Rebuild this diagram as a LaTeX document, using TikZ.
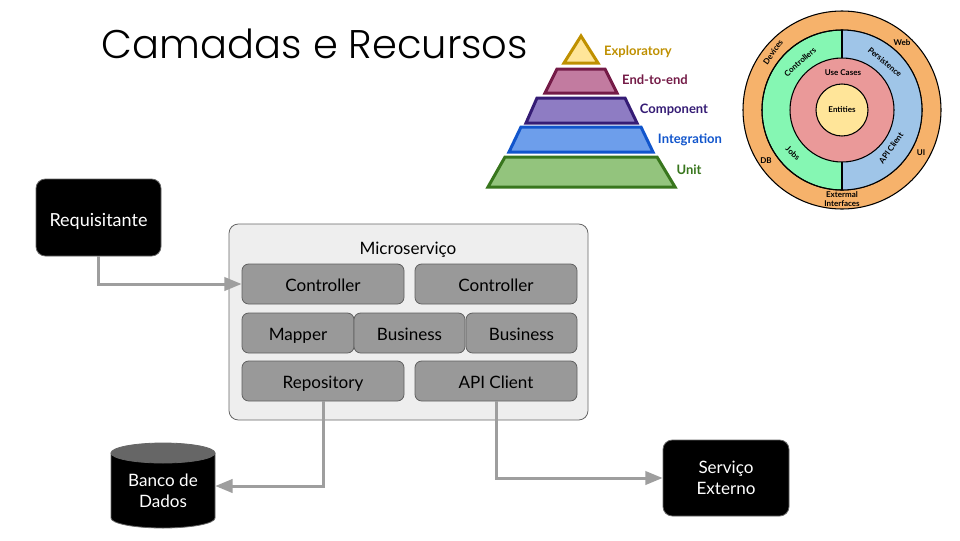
\documentclass[tikz,border=0pt]{standalone}
\usepackage{fontspec}
\setmainfont{Lato}
\newfontfamily\titlefont{Poppins Light}
\usetikzlibrary{arrows.meta}
\definecolor{conn}{HTML}{9E9E9E}
\definecolor{boxfill}{HTML}{999999}
\definecolor{boxline}{HTML}{5F5F5F}
\definecolor{contfill}{HTML}{EEEEEE}
\definecolor{contline}{HTML}{666666}
\definecolor{blkline}{HTML}{666666}
\definecolor{dbtop}{HTML}{666666}
\definecolor{exfill}{HTML}{FFE599}\definecolor{exline}{HTML}{BF9000}
\definecolor{eefill}{HTML}{C27BA0}\definecolor{eeline}{HTML}{741B47}
\definecolor{cofill}{HTML}{8E7CC3}\definecolor{coline}{HTML}{351C75}
\definecolor{infill}{HTML}{6D9EEB}\definecolor{inline}{HTML}{1155CC}
\definecolor{unfill}{HTML}{93C47D}\definecolor{unline}{HTML}{38761D}
\definecolor{onorange}{HTML}{F6B26B}
\definecolor{ongreen}{HTML}{85F7B3}
\definecolor{onblue}{HTML}{9FC5E8}
\definecolor{onred}{HTML}{EA9999}
\definecolor{onyellow}{HTML}{FFE599}
\begin{document}
\begin{tikzpicture}[x=0.75pt,y=-0.75pt,
  boxfont/.style={font=\fontsize{12.8}{15.5}\selectfont},
  layerbox/.style={boxfont, draw=boxline, fill=boxfill, rounded corners=5pt, minimum height=30pt, inner sep=0pt, line width=0.6pt, text height=11.6pt, text depth=0pt},
  blackbox/.style={boxfont, draw=blkline, fill=black, text=white, rounded corners=7pt, inner sep=0pt, align=center, line width=0.6pt},
  container/.style={draw=contline, fill=contfill, rounded corners=7pt, line width=0.6pt},
  connarrow/.style={draw=conn, line width=2.25pt, -{Triangle[length=13pt,width=10pt]}},
  pyr/.style={line width=2.25pt, line join=miter},
  pyrlabel/.style={font=\bfseries\fontsize{9.75}{11}\selectfont, anchor=base, inner sep=0pt},
  onlabel/.style={font=\bfseries\fontsize{6}{7}\selectfont, inner sep=0pt, align=center},
  ring/.style={draw=black, line width=0.8pt}
]
\useasboundingbox[fill=white] (0,0) rectangle (960,540);

% title
\node[font=\titlefont\fontsize{30}{36}\selectfont] (title) at (315,44) {Camadas e Recursos};

% pyramid
\draw[pyr, fill=exfill, draw=exline] (581,36) -- (598,63) -- (564,63) -- cycle;
\draw[pyr, fill=eefill, draw=eeline] (557,69) -- (605,69) -- (617,93) -- (545,93) -- cycle;
\draw[pyr, fill=cofill, draw=coline] (537,98) -- (625,98) -- (637,123) -- (526,123) -- cycle;
\draw[pyr, fill=infill, draw=inline] (521,127) -- (641,127) -- (653,152) -- (509,152) -- cycle;
\draw[pyr, fill=unfill, draw=unline] (505,157) -- (657,157) -- (675,187) -- (488,187) -- cycle;
\node[pyrlabel, text=exline] (lex) at (638,55) {Exploratory};
\node[pyrlabel, text=eeline] (lee) at (655,84) {End-to-end};
\node[pyrlabel, text=coline] (lco) at (674,113.5) {Component};
\node[pyrlabel, text=inline] (lin) at (690,143) {Integration};
\node[pyrlabel, text=unline] (lun) at (689,174) {Unit};

% onion
\coordinate (oc) at (842,110);
\draw[ring, fill=onorange] (oc) circle[radius=74.25pt];
\draw[ring, fill=ongreen] (oc) circle[radius=60pt];
\fill[onblue] (oc) ++(0pt,60pt) arc[start angle=90, end angle=-90, radius=60pt] -- cycle;
\draw[ring] (oc) circle[radius=60pt];
\draw[ring] (oc) ++(0pt,60pt) -- ++(0pt,-120pt);
\draw[ring, fill=onred] (oc) circle[radius=39pt];
\draw[ring, fill=onyellow] (oc) circle[radius=19.5pt];
\node[onlabel] (oent) at (842,110) {Entities};
\node[onlabel] (ouse) at (843,73) {Use Cases};
\node[onlabel, rotate=42] (octl) at (800,62) {Controllers};
\node[onlabel, rotate=-40] (oper) at (885,62) {Persistence};
\node[onlabel, rotate=-42] (ojob) at (793,153) {Jobs};
\node[onlabel, rotate=55] (oapi) at (891,148) {API Client};
\node[onlabel, rotate=55] (odev) at (773,52) {Devices};
\node[onlabel] (oweb) at (902,43) {Web};
\node[onlabel] (odb) at (766,161) {DB};
\node[onlabel] (oui) at (921,153) {UI};
\node[onlabel] (oext) at (842,199) {Extermal\\Interfaces};

% microservice container
\node[container, minimum width=269.25pt, minimum height=147pt] (ms) at (408.5,322) {};
\node[boxfont, inner sep=0pt, text height=9pt, text depth=0pt] (mslabel) at (408,248) {Microserviço};
\node[layerbox, minimum width=121.5pt] (c1) at (323,284) {Controller};
\node[layerbox, minimum width=121.5pt] (c2) at (496,284) {Controller};
\node[layerbox, minimum width=84pt] (map) at (298,333) {Mapper};
\node[layerbox, minimum width=83.25pt] (b1) at (409.5,333) {Business};
\node[layerbox, minimum width=83.25pt] (b2) at (521.5,333) {Business};
\node[layerbox, minimum width=121.5pt] (repo) at (323,381) {Repository};
\node[layerbox, minimum width=121.5pt] (api) at (496,381) {API Client};

% external boxes
\node[blackbox, font=\fontsize{13.5}{16}\selectfont, text height=12.8pt, text depth=0pt, minimum width=93.75pt, minimum height=57.75pt] (req) at (98.5,217.5) {Requisitante};
\node[blackbox, minimum width=94.5pt, minimum height=57pt] (ext) at (726,478) {Serviço\\Externo};

% database cylinder
\filldraw[fill=black, draw=blkline, line width=0.6pt] (111,453) -- (111,518) arc[start angle=180, end angle=360, x radius=39pt, y radius=7.5pt] -- (215,453) -- cycle;
\filldraw[fill=dbtop, draw=blkline, line width=0.6pt] (163,453) ellipse[x radius=39pt, y radius=7.5pt];
\node[boxfont, text=white, align=center, minimum width=78pt, inner sep=0pt] (db) at (163,491) {Banco de\\Dados};

% connectors
\draw[connarrow] (req.south) |- (c1.west);
\draw[connarrow] (repo.south) |- ([yshift=3.75pt]db.east);
\draw[connarrow] (api.south) |- (ext.west);
\end{tikzpicture}
\end{document}
